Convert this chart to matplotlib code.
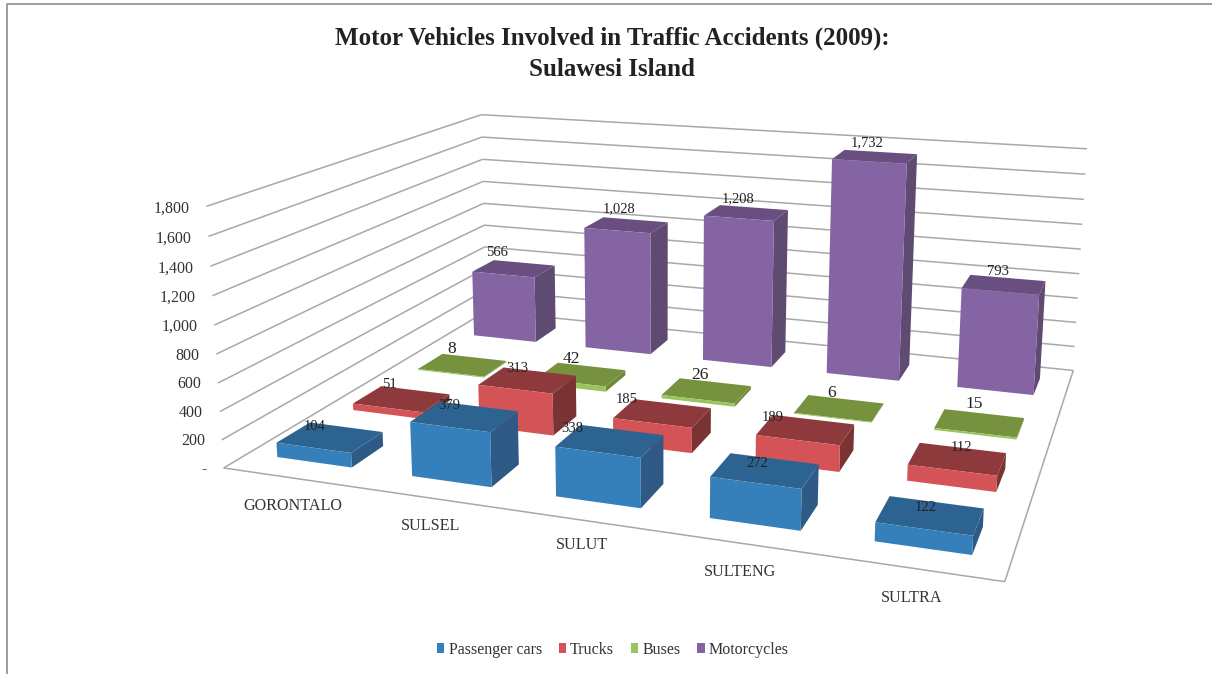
import numpy as np
import matplotlib
matplotlib.use("Agg")
import matplotlib.pyplot as plt
from matplotlib.patches import Patch
from matplotlib.lines import Line2D
from mpl_toolkits.mplot3d.art3d import Line3DCollection

# ---- data ----
regions = ["GORONTALO", "SULSEL", "SULUT", "SULTENG", "SULTRA"]
passenger_cars = [104, 379, 338, 272, 122]
trucks = [51, 313, 185, 189, 112]
buses = [8, 42, 26, 6, 15]
motorcycles = [566, 1028, 1208, 1732, 793]
series_names = ["Passenger cars", "Trucks", "Buses", "Motorcycles"]
series_values = [passenger_cars, trucks, buses, motorcycles]
z_ticks = [0, 200, 400, 600, 800, 1000, 1200, 1400, 1600, 1800]
z_labels = ["-", "200", "400", "600", "800", "1,000", "1,200", "1,400", "1,600", "1,800"]
title = "Motor Vehicles Involved in Traffic Accidents (2009):\nSulawesi Island"

# face colours: front, top, right side
colors = [("#3580ba", "#2d6390", "#2e5a85"),
          ("#d35356", "#8e3a3c", "#7a3333"),
          ("#9ac45e", "#77923f", "#6d8a3a"),
          ("#8464a3", "#684f80", "#5f4a72")]
legend_colors = ["#3580ba", "#d35356", "#9ac45e", "#8464a3"]
label_sizes = [10.5, 10.5, 12.5, 10.5]
GRID = "#a8a8a8"
SERIF = "Liberation Serif"
BAR_W, BAR_D = 0.56, 0.42

# label nudges (category units, depth units), one row per series
label_dx = [[-0.14, -0.135, -0.26, -0.05, -0.03],
            [-0.165, -0.12, -0.275, -0.235, 0.01],
            [-0.17, -0.14, -0.10, -0.09, -0.07],
            [-0.27, -0.19, -0.15, -0.12, -0.07]]
label_dy = [[-0.17, -0.16, -0.20, -0.21, -0.20],
            [-0.09, -0.12, -0.16, -0.18, -0.12],
            [-0.06, -0.06, -0.06, -0.08, 0.02],
            [0.04, 0.13, 0.06, 0.08, -0.02]]
region_dx = [0.265, 0.20, 0.14, 0.10, 0.06]
region_y = [-0.40, -0.39, -0.33, -0.37, -0.37]

# ---- camera: the reference's box corners, (x, y, z) -> pixel ----
W, H = 1212, 674
NX, NY, ZMAX = len(regions), len(series_names), 1800
calib = [((0, 0, 0), (223, 467)), ((NX, 0, 0), (1005, 582)),
         ((NX, NY, 0), (1073, 370)), ((0, NY, 0), (487, 312)),
         ((0, 0, ZMAX), (207, 207)), ((NX, NY, ZMAX), (1087, 149)),
         ((0, NY, ZMAX), (481, 114))]


def fit_camera(pairs):
    rows = []
    for (x, y, z), (u, v) in pairs:
        X = [x, y, z / 1000.0, 1.0]
        rows.append(X + [0, 0, 0, 0] + [-u * c for c in X])
        rows.append([0, 0, 0, 0] + X + [-v * c for c in X])
    P = np.linalg.svd(np.array(rows, float))[2][-1].reshape(3, 4)
    P[:, 2] /= 1000.0
    if (P[2] @ np.array([NX / 2, NY / 2, 0, 1])) < 0:
        P = -P
    return P


P = fit_camera(calib)


def label_at(x, y, z, text, **kw):
    """Put a text at the place the camera shows the 3D point (x, y, z)."""
    u, v, w = P @ np.array([x, y, z, 1.0])
    return fig.text(u / w / W, 1 - v / w / H, text, family=SERIF, **kw)


fig = plt.figure(figsize=(W / 100, H / 100), dpi=100, facecolor="white")
ax = fig.add_axes([0, 0, 1, 1], projection="3d", computed_zorder=False)
ax.apply_aspect = lambda position=None, location=None: None
ax.set_axis_off()


def camera_proj():
    inv = ax.transData.inverted()
    (x0, y0), (x1, y1) = inv.transform([[0, 0], [W, H]])
    sx, sy = (x1 - x0) / W, (y1 - y0) / H
    row_x = sx * P[0] + x0 * P[2]
    # pixel rows count downward in the reference
    row_y = sy * (H * P[2] - P[1]) + y0 * P[2]
    return np.array([row_x, row_y, [0, 1, 0, 0], P[2]])


ax.get_proj = camera_proj

# ---- walls and floor ----
segments = []
for z in z_ticks:
    segments.append([(0, 0, z), (0, NY, z)])
    segments.append([(0, NY, z), (NX, NY, z)])
segments.append([(0, 0, 0), (NX, 0, 0)])
segments.append([(NX, 0, 0), (NX, NY, 0)])
ax.add_collection3d(Line3DCollection(segments, colors=GRID, linewidths=1.1, zorder=1))

# ---- bars, back row first ----
order = 2
for j in reversed(range(NY)):
    for i in range(NX):
        front, top, side = colors[j]
        # bar3d face order: bottom, top, front(-y), back(+y), left(-x), right(+x)
        faces = ["none", top, front, "none", "none", side]
        ax.bar3d(i + 0.5 - BAR_W / 2, j + 0.5 - BAR_D / 2, 0, BAR_W, BAR_D,
                 series_values[j][i], color=faces, shade=False, linewidth=0, zorder=order)
        order += 1

# ---- value labels ----
for j in range(NY):
    for i in range(NX):
        v = series_values[j][i]
        label_at(i + 0.5 + label_dx[j][i], j + 0.5 + BAR_D / 2 + label_dy[j][i], v, f"{v:,}",
                 fontsize=label_sizes[j], ha="center", va="bottom", color="#222222")

# ---- axis labels ----
for z, lab in zip(z_ticks, z_labels):
    label_at(-0.13, 0, z - 25, lab, fontsize=11.5, ha="right", va="center", color="#333333")
for i, name in enumerate(regions):
    label_at(i + 0.5 + region_dx[i], region_y[i], 0, name, fontsize=11.6,
             ha="center", va="center", color="#333333")

# ---- title, legend, border ----
fig.text(612 / W, 1 - 54 / H, title, family=SERIF, fontsize=18, fontweight="bold", ha="center",
         va="center", color="#222222", linespacing=1.42)
handles = [Patch(facecolor=c, edgecolor="none") for c in legend_colors]
fig.legend(handles, series_names, loc="center", bbox_to_anchor=(613 / W, 1 - 650 / H), ncol=4,
           frameon=False, prop={"family": SERIF, "size": 11.5}, labelcolor="#333333",
           handlelength=0.45, handleheight=0.6, handletextpad=0.26, columnspacing=1.06)
fig.add_artist(Line2D([7 / W, 7 / W, 1], [0, 1 - 4 / H, 1 - 4 / H], color="#8c8c8c", lw=1.2))

fig.savefig("out.png", dpi=100, facecolor="white")
